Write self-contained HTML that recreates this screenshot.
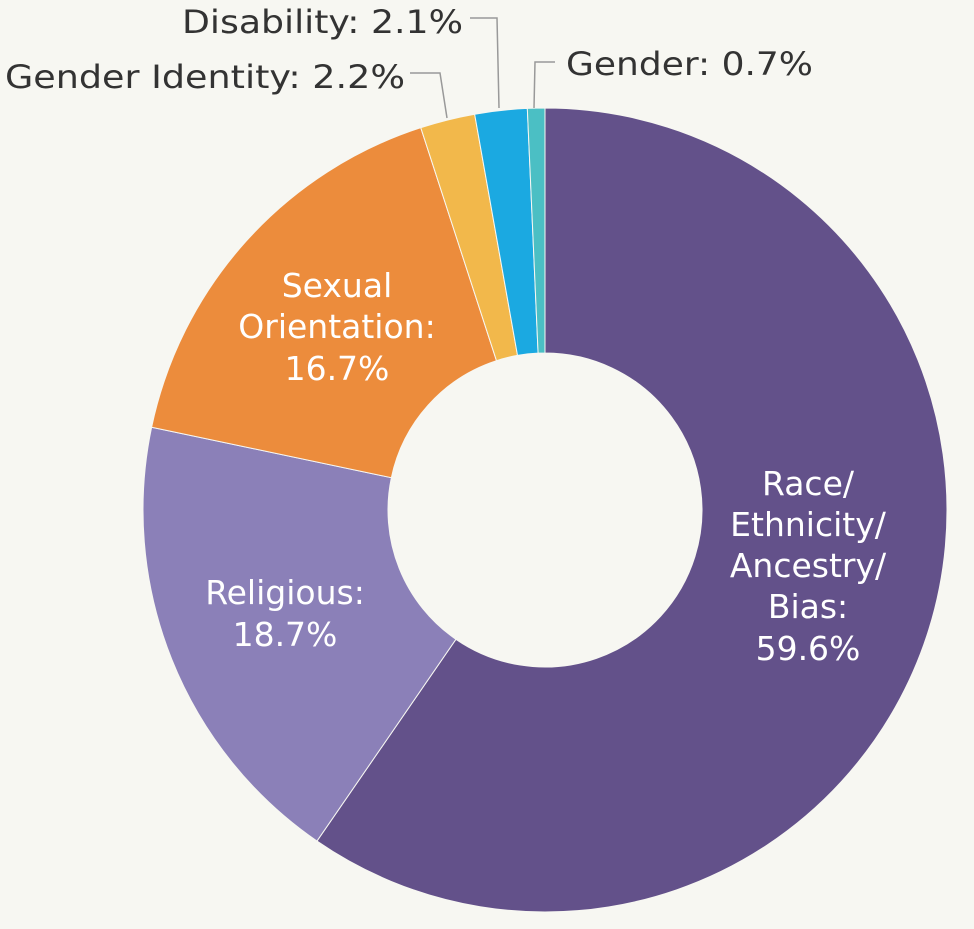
<!DOCTYPE html>
<html><head><style>
html,body{margin:0;padding:0;background:#f7f7f2;}
svg{display:block;}
text{font-family:"DejaVu Sans","Liberation Sans",sans-serif;font-size:29px;}
.in{font-size:33px;}
.out{font-size:32px;}
</style></head><body>
<svg width="974" height="929" viewBox="0 0 974 929" xmlns="http://www.w3.org/2000/svg">
<rect width="974" height="929" fill="#f7f7f2"/>
<g id="d"></g>
<g fill="none" stroke="#999" stroke-width="1.5">
<polyline points="470,18 497,18 499,108"/>
<polyline points="410,73 440,73 447,118"/>
<polyline points="555,62 535,62 534,108"/>
</g>
<g fill="#333" class="out">
<text class="out" x="182" y="33" textLength="281" lengthAdjust="spacingAndGlyphs">Disability: 2.1%</text>
<text class="out" x="5" y="88" textLength="400" lengthAdjust="spacingAndGlyphs">Gender Identity: 2.2%</text>
<text class="out" x="566" y="75" textLength="247" lengthAdjust="spacingAndGlyphs">Gender: 0.7%</text>
</g>
<g fill="#fff" text-anchor="middle">
<text class="in" x="808" y="495">Race/</text>
<text class="in" x="808" y="536">Ethnicity/</text>
<text class="in" x="808" y="577">Ancestry/</text>
<text class="in" x="808" y="618">Bias:</text>
<text class="in" x="808" y="660">59.6%</text>
<text class="in" x="337" y="297">Sexual</text>
<text class="in" x="337" y="338">Orientation:</text>
<text class="in" x="337" y="380">16.7%</text>
<text class="in" x="285" y="604">Religious:</text>
<text class="in" x="285" y="646">18.7%</text>
</g>
<script>
(function(){
var cx=545,cy=510,R=402,r=157;
var data=[[59.6,"#63518a"],[18.7,"#8b80b8"],[16.7,"#ec8c3c"],[2.2,"#f2b84b"],[2.1,"#1ba9e1"],[0.7,"#4bbfc4"]];
var g=document.getElementById("d"),a=0,ns="http://www.w3.org/2000/svg";
function pt(rad,ang){var t=ang*Math.PI/180;return [cx+rad*Math.sin(t),cy-rad*Math.cos(t)];}
data.forEach(function(d){
var b=a+d[0]*3.6,l=(b-a)>180?1:0;
var p1=pt(R,a),p2=pt(R,b),p3=pt(r,b),p4=pt(r,a);
var p=document.createElementNS(ns,"path");
p.setAttribute("d","M"+p1+" A"+R+","+R+" 0 "+l+" 1 "+p2+" L"+p3+" A"+r+","+r+" 0 "+l+" 0 "+p4+"Z");
p.setAttribute("fill",d[1]);p.setAttribute("stroke","#f7f7f2");p.setAttribute("stroke-width","1");
g.appendChild(p);a=b;});
})();
</script>
</svg>
</body></html>
